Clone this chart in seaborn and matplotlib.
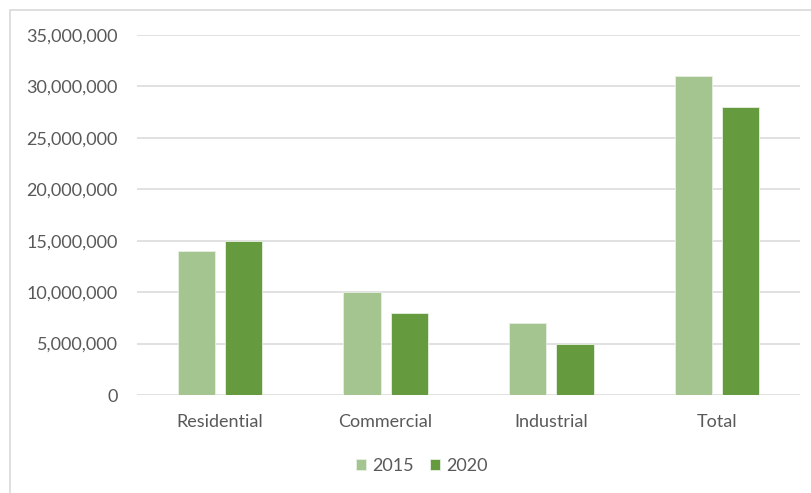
import matplotlib
matplotlib.use("Agg")
import matplotlib.pyplot as plt
from matplotlib.patches import Rectangle
from matplotlib.ticker import FuncFormatter
import seaborn as sns
import pandas as pd

# chart data
categories = ["Residential", "Commercial", "Industrial", "Total"]
years = ["2015", "2020"]
values_2015 = [14000000, 10000000, 7000000, 31000000]
values_2020 = [15000000, 8000000, 5000000, 28000000]

df = pd.DataFrame({
    "category": categories * 2,
    "year": [years[0]] * 4 + [years[1]] * 4,
    "value": values_2015 + values_2020,
})

sns.set_style("white")
plt.rcParams["font.family"] = ["Lato", "DejaVu Sans"]

fig = plt.figure(figsize=(8.12, 4.93), dpi=100)
ax = fig.add_axes([137 / 812, 1 - 395 / 493, 663 / 812, 360 / 493])

palette = {"2015": "#A5C590", "2020": "#659A3E"}
sns.barplot(data=df, x="category", y="value", hue="year", palette=palette,
            saturation=1, width=0.57, gap=0.21, edgecolor="#E8F0E2",
            linewidth=0.6, ax=ax, zorder=3)

ax.set_ylim(0, 35000000)
ax.set_yticks(range(0, 35000001, 5000000))
ax.yaxis.set_major_formatter(FuncFormatter(lambda v, p: f"{int(v):,}"))
ax.set_xlim(-0.5, 3.5)
ax.set_xlabel("")
ax.set_ylabel("")
ax.grid(axis="y", color="#D9D9D9", linewidth=1.1, zorder=0)
for s in ax.spines.values():
    s.set_visible(False)
ax.tick_params(axis="both", length=0, labelsize=13, labelcolor="#595959")
ax.tick_params(axis="y", pad=14)
ax.tick_params(axis="x", pad=14)

handles, labels = ax.get_legend_handles_labels()
leg = ax.legend(handles, labels, loc="center", bbox_to_anchor=(0.43, -0.197),
                ncol=2, frameon=False, fontsize=13, handlelength=0.55,
                handleheight=0.55, handletextpad=0.35, columnspacing=0.9,
                labelcolor="#595959")

fig.patches.append(Rectangle((10 / 812, -0.1), 1.1, 1 - 10 / 493 + 0.1,
                             transform=fig.transFigure, fill=False,
                             edgecolor="#D9D9D9", linewidth=1.2))

fig.savefig("out.png", dpi=100)
